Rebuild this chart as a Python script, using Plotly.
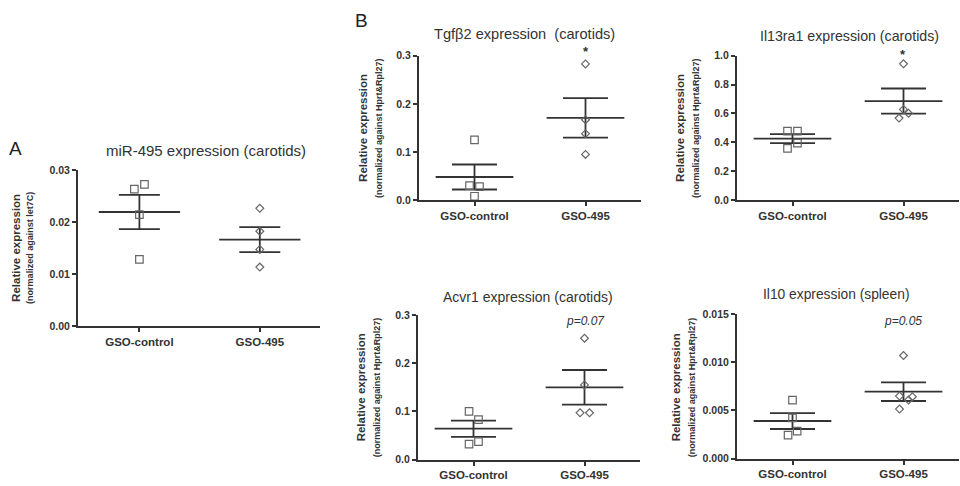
import plotly.graph_objects as go

# ---------------- data ----------------
groups = ["GSO-control", "GSO-495"]

# Panel A: miR-495 (carotids)
mir495_control = [0.0263, 0.0272, 0.0214, 0.0128]
mir495_gso495 = [0.0226, 0.0182, 0.0147, 0.0113]
mir495_mean = [0.0219, 0.0166]
mir495_sem = [0.0033, 0.0024]

# Tgfb2 (carotids)
tgfb2_control = [0.125, 0.030, 0.028, 0.008]
tgfb2_gso495 = [0.283, 0.167, 0.138, 0.095]
tgfb2_mean = [0.048, 0.171]
tgfb2_sem = [0.026, 0.041]

# Il13ra1 (carotids)
il13_control = [0.478, 0.478, 0.394, 0.358]
il13_gso495 = [0.944, 0.628, 0.601, 0.568]
il13_mean = [0.426, 0.686]
il13_sem = [0.031, 0.087]

# Acvr1 (carotids)
acvr1_control = [0.100, 0.083, 0.032, 0.037]
acvr1_gso495 = [0.252, 0.155, 0.097, 0.097]
acvr1_mean = [0.064, 0.150]
acvr1_sem = [0.017, 0.036]

# Il10 (spleen)
il10_control = [0.00608, 0.00422, 0.00284, 0.00243]
il10_gso495 = [0.01071, 0.00649, 0.00608, 0.00642, 0.00514]
il10_mean = [0.00390, 0.00695]
il10_sem = [0.00083, 0.00097]

# ---------------- styling ----------------
FONT = "Liberation Sans, Arial, sans-serif"
DARK = "#333333"
MARK = "#666666"

# horizontal jitter (style only, category units)
jit_A_ctrl = [-0.042, 0.042, 0.0, 0.0]
jit_A_495 = [0.0, 0.0, 0.0, 0.0]
jit_tgf_ctrl = [0.0, -0.045, 0.045, 0.0]
jit_tgf_495 = [0.0, 0.0, 0.0, 0.0]
jit_il13_ctrl = [-0.045, 0.045, 0.045, -0.045]
jit_il13_495 = [0.0, 0.0, 0.045, -0.04]
jit_acv_ctrl = [-0.04, 0.045, -0.04, 0.045]
jit_acv_495 = [0.0, 0.0, -0.04, 0.045]
jit_il10_ctrl = [0.0, 0.0, 0.042, -0.04]
jit_il10_495 = [0.0, -0.036, 0.045, 0.08, -0.036]

fig = go.Figure()


def px_x(p):
    return p / 960.0


def px_y(p):
    return 1 - p / 486.0


panels = [
    dict(ctrl=mir495_control, g495=mir495_gso495, mean=mir495_mean, sem=mir495_sem,
         jc=jit_A_ctrl, j4=jit_A_495, xd=(78, 320), yd=(168, 328), yr=(0, 0.03),
         dt=0.01, fmt=".2f", mh=0.3375, ch=20.5, xr=(0.49, 2.5)),
    dict(ctrl=tgfb2_control, g495=tgfb2_gso495, mean=tgfb2_mean, sem=tgfb2_sem,
         jc=jit_tgf_ctrl, j4=jit_tgf_495, xd=(419, 641), yd=(51, 199), yr=(0, 0.3),
         dt=0.1, fmt=".1f", mh=0.35, ch=22.5, xr=(0.5, 2.5)),
    dict(ctrl=il13_control, g495=il13_gso495, mean=il13_mean, sem=il13_sem,
         jc=jit_il13_ctrl, j4=jit_il13_495, xd=(737, 959), yd=(51, 199), yr=(0, 1.0),
         dt=0.2, fmt=".1f", mh=0.35, ch=22.5, xr=(0.5, 2.5)),
    dict(ctrl=acvr1_control, g495=acvr1_gso495, mean=acvr1_mean, sem=acvr1_sem,
         jc=jit_acv_ctrl, j4=jit_acv_495, xd=(418, 640), yd=(317, 465), yr=(0, 0.3),
         dt=0.1, fmt=".1f", mh=0.35, ch=22.5, xr=(0.5, 2.5)),
    dict(ctrl=il10_control, g495=il10_gso495, mean=il10_mean, sem=il10_sem,
         jc=jit_il10_ctrl, j4=jit_il10_495, xd=(737, 959), yd=(316, 464), yr=(0, 0.015),
         dt=0.005, fmt=".3f", mh=0.35, ch=22.5, xr=(0.5, 2.5)),
]

layout_axes = {}
for i, p in enumerate(panels):
    n = i + 1
    xa = "x" if n == 1 else f"x{n}"
    ya = "y" if n == 1 else f"y{n}"
    # mean line + SEM
    fig.add_trace(go.Scatter(
        x=[1, 2], y=p["mean"], mode="markers", xaxis=xa, yaxis=ya,
        marker=dict(size=1, color="rgba(0,0,0,0)"),
        error_y=dict(type="data", array=p["sem"], symmetric=True, width=p["ch"],
                     thickness=1.8, color=DARK),
        error_x=dict(type="constant", value=p["mh"], width=0, thickness=1.8, color=DARK),
        showlegend=False, hoverinfo="skip"))
    # control squares
    fig.add_trace(go.Scatter(
        x=[1 + j for j in p["jc"]], y=p["ctrl"], mode="markers", xaxis=xa, yaxis=ya,
        marker=dict(symbol="square-open", size=7.5, color=MARK, line=dict(width=1.2, color=MARK)),
        showlegend=False))
    # GSO-495 diamonds
    fig.add_trace(go.Scatter(
        x=[2 + j for j in p["j4"]], y=p["g495"], mode="markers", xaxis=xa, yaxis=ya,
        marker=dict(symbol="diamond-open", size=6, color=MARK, line=dict(width=1.2, color=MARK)),
        showlegend=False))

    key_x = "xaxis" if n == 1 else f"xaxis{n}"
    key_y = "yaxis" if n == 1 else f"yaxis{n}"
    layout_axes[key_x] = dict(
        domain=[px_x(p["xd"][0]), px_x(p["xd"][1])], range=list(p["xr"]),
        anchor=ya, tickvals=[1, 2], ticktext=groups, showline=True, linewidth=2,
        linecolor=DARK, ticks="outside", ticklen=4, tickwidth=2, tickcolor=DARK,
        showgrid=False, zeroline=False, fixedrange=True,
        tickfont=dict(family=FONT, size=11.5, color=DARK, weight="bold"))
    layout_axes[key_y] = dict(
        domain=[px_y(p["yd"][1]), px_y(p["yd"][0])], range=list(p["yr"]),
        anchor=xa, dtick=p["dt"], tick0=0, tickformat=p["fmt"], showline=True,
        linewidth=2, linecolor=DARK, ticks="outside", ticklen=4, tickwidth=2,
        tickcolor=DARK, showgrid=False, zeroline=False, fixedrange=True,
        tickfont=dict(family=FONT, size=10.5, color=DARK, weight="bold"))

annotations = []


def txt(x, y, s, size, bold=False, italic=False, angle=0, color=DARK, xanchor="center"):
    s2 = s
    if italic:
        s2 = f"<i>{s2}</i>"
    if bold:
        s2 = f"<b>{s2}</b>"
    annotations.append(dict(
        x=px_x(x), y=px_y(y), xref="paper", yref="paper", text=s2, showarrow=False,
        textangle=angle, xanchor=xanchor, yanchor="middle",
        font=dict(family=FONT, size=size, color=color)))


# panel letters
txt(15, 146, "A", 19, color="#222")
txt(361, 15, "B", 19, color="#222")

# titles
txt(206, 148, "miR-495 expression (carotids)", 15)
txt(524, 29, "Tgf\u03b22 expression \u00a0(carotids)", 14.6)
txt(849, 31, "Il13ra1 expression (carotids)", 14.2)
txt(528, 298, "Acvr1 expression (carotids)", 14)
txt(836, 296, "Il10 expression (spleen)", 13.8)

# y titles
ytitles = [
    (16, 30, 248, "(normalized against let7C)"),
    (363, 379, 125, "(normalized against Hprt&Rpl27)"),
    (680, 696, 125, "(normalized against Hprt&Rpl27)"),
    (361, 377, 391, "(normalized against Hprt&Rpl27)"),
    (676, 692, 391, "(normalized against Hprt&Rpl27)"),
]
for x1, x2, yc, sub in ytitles:
    txt(x1, yc, "Relative expression", 11.5, bold=True, angle=-90)
    txt(x2, yc, sub, 9, bold=True, angle=-90)

# significance marks
txt(586, 47, "*", 13, bold=True)
txt(903, 50, "*", 13, bold=True)
txt(585, 323, "p=0.07", 12, italic=True)
txt(903, 323, "p=0.05", 12, italic=True)

fig.update_layout(
    width=960, height=486, margin=dict(l=0, r=0, t=0, b=0),
    paper_bgcolor="white", plot_bgcolor="white",
    font=dict(family=FONT, color=DARK),
    annotations=annotations, showlegend=False, **layout_axes)

fig.write_html("out.html", config={"displayModeBar": False},
               post_script="document.body.style.margin='0';document.body.style.overflow='hidden';")
